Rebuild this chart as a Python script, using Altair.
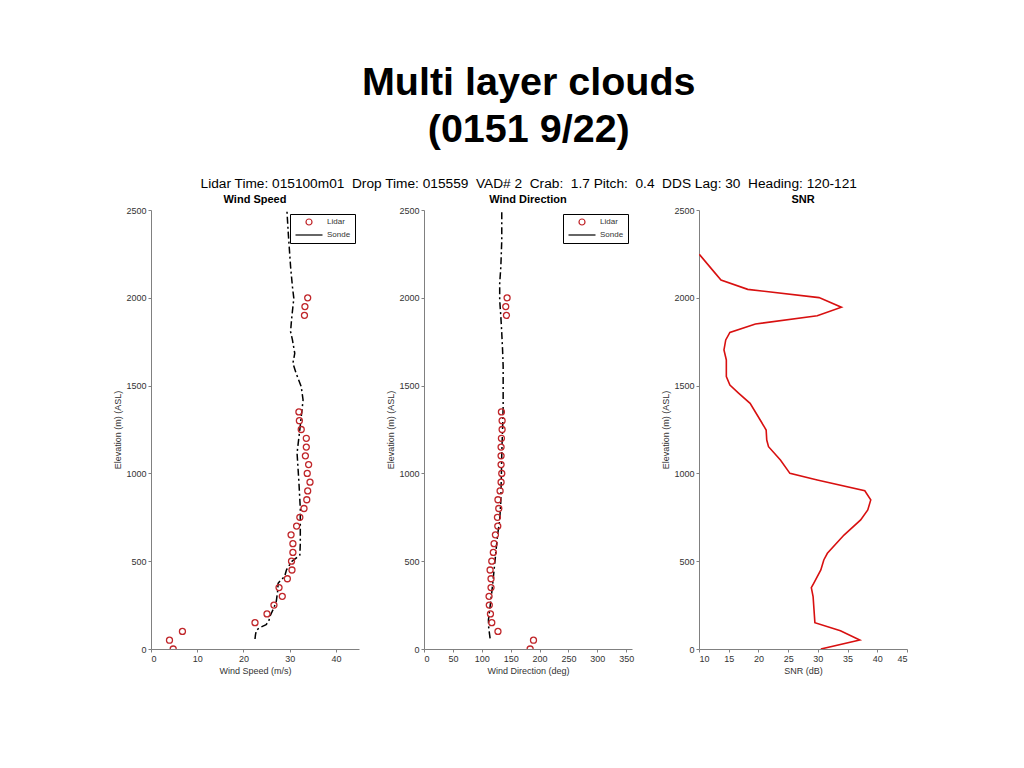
import altair as alt
import pandas as pd

# ---------------- data ----------------
ws_lidar_elev = [0, 50, 100, 150, 200, 250, 300, 350, 400, 450, 500, 550, 600, 650, 700,
                 750, 800, 850, 900, 950, 1000, 1050, 1100, 1150, 1200, 1250, 1300, 1350,
                 1900, 1950, 2000]
ws_lidar_val = [4.8, 4.0, 6.8, 22.5, 25.1, 26.6, 28.4, 27.7, 29.5, 30.5, 30.4, 30.7, 30.7, 30.3, 31.5,
                32.2, 33.1, 33.7, 33.9, 34.4, 33.8, 34.1, 33.4, 33.6, 33.6, 32.5, 32.1, 32.0,
                33.2, 33.3, 33.9]

ws_sonde_elev = [57, 80, 108, 125, 138, 160, 184, 230, 270, 330, 374, 390, 412, 450, 497, 535,
                 600, 800, 950, 1116, 1250, 1418, 1494, 1570, 1627, 1684, 1760, 1807, 1874,
                 1949, 1997, 2063, 2177, 2291, 2367, 2500]
ws_sonde_val = [22.5, 22.6, 22.8, 23.8, 24.9, 25.5, 25.7, 26.5, 27.1, 27.4, 27.5, 28.0, 28.9, 29.3, 30.4, 32.2,
                32.3, 32.3, 32.0, 31.6, 32.2, 32.9, 32.5, 31.4, 30.7, 31.1, 30.6, 30.2, 30.4,
                30.7, 30.9, 30.6, 30.2, 29.9, 29.7, 29.4]

wd_lidar_elev = ws_lidar_elev
wd_lidar_val = [183.7, 189.5, 128.0, 117.3, 115.0, 113.0, 112.6, 116.0, 116.0, 114.4, 117.3, 120.0,
                121.3, 123.6, 127.7, 127.1, 129.4, 128.0, 131.7, 133.4, 134.6, 133.4, 133.4, 133.4,
                134.0, 135.2, 135.2, 134.0, 142.7, 141.5, 143.8]

wd_sonde_elev = [61, 120, 165, 241, 355, 450, 545, 640, 735, 830, 1000, 1114, 1250, 1380, 1608,
                 1703, 1798, 1892, 1987, 2083, 2177, 2329, 2500]
wd_sonde_val = [114.4, 112.0, 111.5, 114.4, 118.4, 121.3, 124.2, 127.0, 131.0, 132.8, 134.0, 134.6,
                136.0, 137.0, 137.0, 136.0, 134.6, 133.0, 131.0, 131.0, 133.0, 134.6, 134.6]

snr_elev = [0, 51, 104, 150, 298, 349, 374, 450, 507, 545, 649, 735, 792, 849, 901, 962, 1000,
            1076, 1152, 1190, 1247, 1304, 1399, 1456, 1503, 1551, 1646, 1703, 1760, 1803, 1851,
            1898, 1946, 2001, 2048, 2101, 2149, 2248]
snr_val = [30.5, 37.05, 33.8, 29.5, 29.2, 28.9, 29.3, 30.5, 31.0, 31.6, 34.4, 37.2, 38.4, 38.9, 37.9,
           29.9, 25.3, 23.7, 21.7, 21.4, 21.3, 20.3, 18.6, 16.7, 15.2, 14.6, 14.6, 14.2, 14.5, 15.2,
           19.5, 29.9, 33.96, 30.2, 18.2, 13.7, 12.5, 10.05]

elev_ticks = [0, 500, 1000, 1500, 2000, 2500]
ws_ticks = [0, 10, 20, 30, 40]
wd_ticks = [0, 50, 100, 150, 200, 250, 300, 350]
snr_ticks = [10, 15, 20, 25, 30, 35, 40, 45]

series_names = ["Lidar", "Sonde"]

# ---------------- styling ----------------
FONT = "Liberation Sans"
W, H = 208, 439
LIDAR_RED = "#c0262a"
GRAY = "#808080"
TXT = "#333333"

def x_axis(values, title):
    return alt.Axis(values=values, title=title, grid=False, tickSize=3, labelPadding=2,
                    titlePadding=3, domainColor=GRAY, tickColor=GRAY, format="d",
                    titleFontWeight="normal", titleFont=FONT, labelFont=FONT,
                    labelFontSize=9, titleFontSize=9, labelColor=TXT, titleColor=TXT)

def y_axis():
    return alt.Axis(values=elev_ticks, title="Elevation (m) (ASL)", grid=False, tickSize=3,
                    labelPadding=2, titlePadding=3, domainColor=GRAY, tickColor=GRAY, format="d",
                    titleFontWeight="normal", titleFont=FONT, labelFont=FONT,
                    labelFontSize=9, titleFontSize=9, labelColor=TXT, titleColor=TXT)

legend = alt.Legend(title=None, orient="top-right", offset=4, padding=4,
                    strokeColor="black", fillColor="white", labelFontSize=8,
                    labelFont=FONT, labelColor=TXT, symbolSize=36, symbolStrokeWidth=1.2,
                    symbolOffset=11, labelOffset=14, rowPadding=3)

color_scale = alt.Scale(domain=series_names, range=[LIDAR_RED, "black"])
shape_scale = alt.Scale(domain=series_names, range=["circle", "M-4.5,0H4.5"])


def profile_panel(title, lid_elev, lid_val, son_elev, son_val, xdom, xticks, xtitle):
    lid = pd.DataFrame({"elev": lid_elev, "val": lid_val, "series": "Lidar"})
    son = pd.DataFrame({"elev": son_elev, "val": son_val, "series": "Sonde"})
    x = alt.X("val:Q", scale=alt.Scale(domain=xdom, nice=False, zero=False), axis=x_axis(xticks, xtitle))
    y = alt.Y("elev:Q", scale=alt.Scale(domain=[0, 2500], nice=False), axis=y_axis())
    line = alt.Chart(son).mark_line(strokeWidth=1.5, strokeDash=[7, 3, 2, 3], clip=True).encode(
        x=x, y=y, order="elev:Q",
        color=alt.Color("series:N", scale=color_scale, legend=legend),
    )
    pts = alt.Chart(lid).mark_point(filled=False, size=36, strokeWidth=1.3, opacity=1, clip=True).encode(
        x=x, y=y,
        color=alt.Color("series:N", scale=color_scale, legend=legend),
        shape=alt.Shape("series:N", scale=shape_scale, legend=legend),
    )
    return alt.layer(line, pts).properties(
        width=W, height=H,
        title=alt.TitleParams(title, fontSize=11, fontWeight="bold", font=FONT, offset=1),
    )


p1 = profile_panel("Wind Speed", ws_lidar_elev, ws_lidar_val, ws_sonde_elev, ws_sonde_val,
                   [0, 45], ws_ticks, "Wind Speed (m/s)")
p2 = profile_panel("Wind Direction", wd_lidar_elev, wd_lidar_val, wd_sonde_elev, wd_sonde_val,
                   [0, 360], wd_ticks, "Wind Direction (deg)")

snr_df = pd.DataFrame({"elev": snr_elev, "snr": snr_val})
p3 = alt.Chart(snr_df).mark_line(color="#d81010", strokeWidth=1.6, clip=True).encode(
    x=alt.X("snr:Q", scale=alt.Scale(domain=[10, 45], nice=False, zero=False), axis=x_axis(snr_ticks, "SNR (dB)")),
    y=alt.Y("elev:Q", scale=alt.Scale(domain=[0, 2500], nice=False), axis=y_axis()),
    order="elev:Q",
).properties(width=W, height=H,
             title=alt.TitleParams("SNR", fontSize=11, fontWeight="bold", font=FONT, offset=1))

chart = alt.hconcat(p1, p2, p3, spacing=27).resolve_scale(
    color="independent", shape="independent"
).resolve_legend(color="independent", shape="independent").properties(
    title=alt.TitleParams(
        ["Multi layer clouds", "(0151 9/22)"],
        subtitle="Lidar Time: 015100m01\u00a0 Drop Time: 015559\u00a0 VAD# 2\u00a0 Crab:\u00a0 1.7 Pitch:\u00a0 0.4\u00a0 DDS Lag: 30\u00a0 Heading: 120-121",
        fontSize=39.5, fontWeight="bold", font=FONT, color="black", lineHeight=47,
        subtitleFontSize=13.7, subtitleFont=FONT, subtitleColor="black", subtitlePadding=27,
        anchor="middle", dx=18, offset=2,
    ),
    padding={"left": 105, "top": 54, "right": 5, "bottom": 5},
    background="white",
).configure_view(stroke=None)

chart.save("out.html", embed_options={"renderer": "svg", "actions": False})
